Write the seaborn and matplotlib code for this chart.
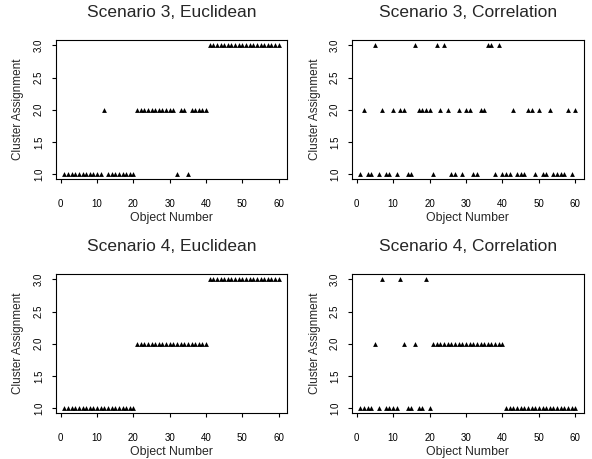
import numpy as np
import pandas as pd
import matplotlib
matplotlib.use("Agg")
import matplotlib.pyplot as plt
import seaborn as sns

objects = list(range(1, 61))

s3_euclidean = ([1] * 11 + [2] + [1] * 8 + [2] * 11 + [1] + [2, 2] + [1] + [2] * 5 + [3] * 20)

s3_correlation = [1, 2, 1, 1, 3, 1, 2, 1, 1, 2,
                  1, 2, 2, 1, 1, 3, 2, 2, 2, 2,
                  1, 3, 2, 3, 2, 1, 1, 2, 1, 2,
                  2, 1, 1, 2, 2, 3, 3, 1, 3, 1,
                  1, 1, 2, 1, 1, 1, 2, 2, 1, 2,
                  1, 1, 2, 1, 1, 1, 1, 2, 1, 2]

s4_euclidean = [1] * 20 + [2] * 20 + [3] * 20

s4_correlation = [1, 1, 1, 1, 2, 1, 3, 1, 1, 1,
                  1, 3, 2, 1, 1, 2, 1, 1, 3, 1] + [2] * 20 + [1] * 20

titles = ["Scenario 3, Euclidean", "Scenario 3, Correlation",
          "Scenario 4, Euclidean", "Scenario 4, Correlation"]
series = [s3_euclidean, s3_correlation, s4_euclidean, s4_correlation]

x_ticks = [0, 10, 20, 30, 40, 50, 60]
y_ticks = [1.0, 1.5, 2.0, 2.5, 3.0]
y_ticklabels = ["1.0", "1.5", "2.0", "2.5", "3.0"]

sns.set_style("white")
plt.rcParams['font.family'] = ['Liberation Sans', 'DejaVu Sans']

W, H = 592, 459
fig = plt.figure(figsize=(W / 100, H / 100), dpi=100)

# axes boxes in pixel coordinates: (left, top, right, bottom, ylabel_x)
boxes = [(55.8, 40.2, 287.3, 179.2, 18), (351.7, 40.2, 583.9, 179.2, 315),
         (55.8, 274.2, 287.3, 413.2, 18), (351.7, 274.2, 583.9, 413.2, 315)]

for (l, t, r, b, ylx), title, vals in zip(boxes, titles, series):
    ax = fig.add_axes([l / W, 1 - b / H, (r - l) / W, (b - t) / H])
    df = pd.DataFrame({"obj": objects, "cluster": vals})
    sns.scatterplot(data=df, x="obj", y="cluster", marker="^", color="black",
                    s=12, linewidth=0, ax=ax, legend=False)
    ax.set_xlim(1 - 0.04 * 59, 60 + 0.04 * 59)
    ax.set_ylim(1 - 0.04 * 2, 3 + 0.04 * 2)
    ax.set_xticks(x_ticks)
    ax.set_xticklabels([str(v) for v in x_ticks])
    ax.set_yticks(y_ticks)
    ax.set_yticklabels(y_ticklabels, rotation=90, va="center")
    ax.tick_params(axis="both", direction="out", length=3, width=0.8,
                   color="black", labelsize=7, labelcolor="black",
                   bottom=True, left=True)
    ax.tick_params(axis="x", pad=11)
    ax.tick_params(axis="y", pad=5.5)
    for sp in ax.spines.values():
        sp.set_visible(True)
        sp.set_color("black")
        sp.set_linewidth(0.8)
    ax.set_xlabel("Object Number", fontsize=8.8)
    ax.set_ylabel("Cluster Assignment", fontsize=8.5)
    ax.xaxis.label.set_va("center")
    ax.yaxis.label.set_va("center")
    ax.xaxis.set_label_coords(0.5, -39.0 / (b - t))
    ax.yaxis.set_label_coords(-(l - ylx) / (r - l), 0.5)
    ax.set_title(title, fontsize=12.5, pad=17)

fig.savefig("out.png", dpi=100)
